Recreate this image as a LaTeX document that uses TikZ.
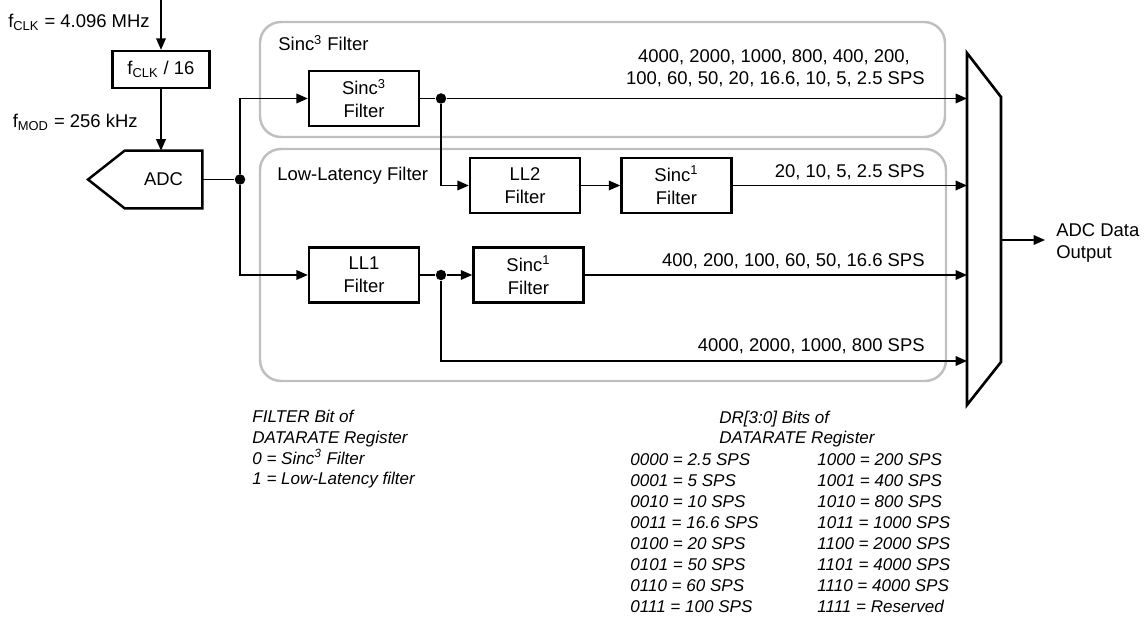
\documentclass[tikz,border=0pt]{standalone}
\usepackage{fontspec}
\setmainfont{Liberation Sans}
\usetikzlibrary{arrows.meta, positioning, calc}

\newcommand{\lblfont}{\fontsize{10.5}{13}\selectfont}
\newcommand{\notefont}{\fontsize{9.7}{11.9}\selectfont\itshape}

\tikzset{
  blk/.style={draw, line width=1.4pt, minimum width=2.2cm, minimum height=1.1cm, align=center, inner sep=1pt, font=\lblfont},
  zone/.style={draw=black!25, line width=1.4pt, rounded corners=0.42cm},
  sig/.style={-{Triangle[length=6.5pt, width=5.5pt]}, line width=0.8pt},
  wire/.style={line width=0.8pt},
  tap/.style={circle, fill, inner sep=0pt, minimum size=0.21cm},
  tag/.style={anchor=base west, inner sep=0pt, font=\lblfont},
  rate/.style={anchor=base east, inner sep=0pt, font=\lblfont, align=right},
  note/.style={anchor=base west, inner sep=0pt, font=\notefont, align=left},
}

\begin{document}
\begin{tikzpicture}[x=0.02cm, y=-0.02cm, node distance=0.78cm]
  \useasboundingbox (0,0) rectangle (1144,618);
  % filter groups
  \draw[zone] (260,22) rectangle (945,137);
  \draw[zone] (260,149) rectangle (946,381);
  \node[tag] (sinclbl) at (278,51) {Sinc\textsuperscript{3} Filter};
  \node[tag] (lllbl) at (277,181) {Low-Latency Filter};

  % clock and modulator
  \coordinate (clkin) at (161,0);
  \node[draw, line width=1.4pt, minimum width=1.94cm, minimum height=0.74cm, inner sep=1pt, font=\lblfont] (fdiv) at (161,69.5) {f\textsubscript{CLK} / 16};
  \node[tag, anchor=base east] (fclk) at (150,28) {f\textsubscript{CLK} = 4.096 MHz};
  \node[tag, anchor=base east] (fmod) at (138,128) {f\textsubscript{MOD} = 256 kHz};
  \node[minimum width=1.54cm, minimum height=1.14cm, inner sep=0pt, font=\lblfont] (adc) at (163.5,179.5) {ADC};
  \draw[line width=1.4pt] (adc.north west) -- (adc.north east) -- (adc.south east) -- (adc.south west) -- (88,179.5) -- cycle;
  \draw[sig] (clkin) -- (fdiv);
  \draw[sig] (fdiv) -- (fdiv.south |- adc.north);

  % filters
  \node[tap] (j0) at (240,179.5) {};
  \node[blk] (sinc3) at (364,98.5) {Sinc\textsuperscript{3}\\Filter};
  \node[blk] (ll1) at (364,275) {LL1\\Filter};
  \node[blk] (ll2) at (525,185.5) {LL2\\Filter};
  \node[blk, right=of ll2] (sinc1a) {Sinc\textsuperscript{1}\\Filter};
  \node[blk, right=1.04cm of ll1] (sinc1b) {Sinc\textsuperscript{1}\\Filter};
  \node[tap] (t1) at (441,98.5) {};
  \node[tap] (t2) at (441,275) {};

  % output mux
  \coordinate (mxa) at (967,53);
  \coordinate (mxb) at (1001,97);
  \coordinate (mxc) at (1001,362);
  \coordinate (mxd) at (967,405);
  \coordinate (mx) at (967,0);
  \coordinate (r4) at (967,361);
  \coordinate (mxo) at (1001,240);
  \draw[line width=1.5pt] (mxa) -- (mxb) -- (mxc) -- (mxd) -- cycle;
  \node[anchor=west, inner sep=0.22cm, font=\lblfont, align=left] (out) at (1045,243) {ADC Data\\Output};
  \draw[sig] (mxo) -- (mxo -| out.west);

  % connections
  \draw[wire] (adc) -- (j0);
  \draw[sig] (j0) |- (sinc3);
  \draw[sig] (j0) |- (ll1);
  \draw[wire] (sinc3) -- (t1);
  \draw[sig] (t1) -- (t1 -| mx);
  \draw[sig] (t1) |- (ll2);
  \draw[sig] (ll2) -- (sinc1a);
  \draw[sig] (sinc1a) -- (sinc1a -| mx);
  \draw[wire] (ll1) -- (t2);
  \draw[sig] (t2) -- (sinc1b);
  \draw[sig] (sinc1b) -- (sinc1b -| mx);
  \draw[sig] (t2) |- (r4);

  % data rates
  \node[rate] (lr1) at (925,85) {4000, 2000, 1000, 800, 400, 200,\hspace*{0.8em}\\100, 60, 50, 20, 16.6, 10, 5, 2.5 SPS};
  \node[rate] (lr2) at (925,178) {20, 10, 5, 2.5 SPS};
  \node[rate] (lr3) at (925,267) {400, 200, 100, 60, 50, 16.6 SPS};
  \node[rate] (lr4) at (925,352) {4000, 2000, 1000, 800 SPS};

  % register notes
  \node[note] (fnote) at (252,485) {FILTER Bit of\\DATARATE Register\\0 = Sinc\textsuperscript{3} Filter\\1 = Low-Latency filter};
  \node[note] (drnote) at (719,444) {DR[3:0] Bits of\\DATARATE Register};
  \node[note] (drlo) at (630,612) {0000 = 2.5 SPS\\0001 = 5 SPS\\0010 = 10 SPS\\0011 = 16.6 SPS\\0100 = 20 SPS\\0101 = 50 SPS\\0110 = 60 SPS\\0111 = 100 SPS};
  \node[note] (drhi) at (817,612) {1000 = 200 SPS\\1001 = 400 SPS\\1010 = 800 SPS\\1011 = 1000 SPS\\1100 = 2000 SPS\\1101 = 4000 SPS\\1110 = 4000 SPS\\1111 = Reserved};
\end{tikzpicture}
\end{document}
